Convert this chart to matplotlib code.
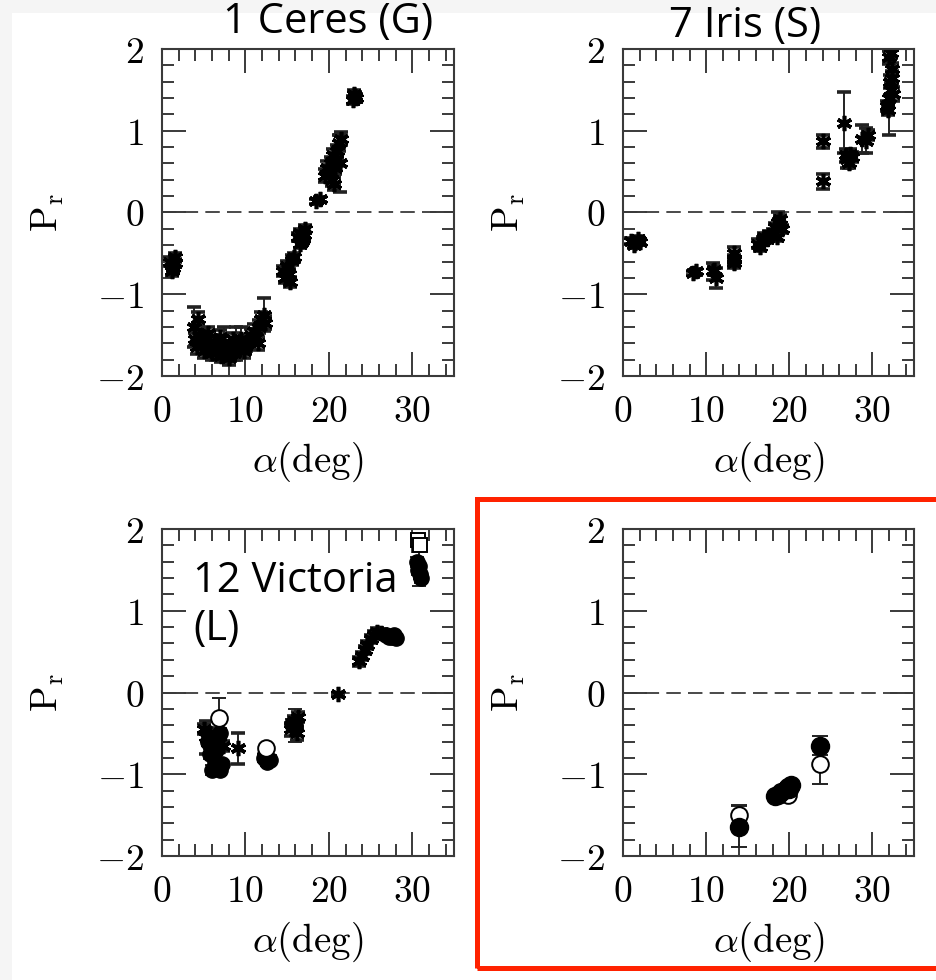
"""Linear polarization P_r vs phase angle for three asteroids plus one unnamed panel."""
import matplotlib
matplotlib.use("Agg")
import matplotlib.pyplot as plt
from matplotlib.patches import Rectangle
from matplotlib.ticker import MultipleLocator, FuncFormatter

plt.rcParams["mathtext.fontset"] = "cm"

# ---- 1 Ceres (G): asterisks -------------------------------------------------
ceres_a = [1.0, 1.3, 1.6, 1.2, 1.5,
           3.8, 4.0, 4.2, 4.5, 4.8, 5.0, 5.3, 5.6, 5.9, 6.2, 6.5, 6.8, 7.1, 7.4,
           7.7, 8.0, 8.3, 8.6, 8.9, 9.2, 9.5, 9.8, 10.1, 10.4, 10.7, 11.0, 11.3,
           11.6, 11.9, 12.2, 12.4, 4.3, 5.5, 7.0, 8.5, 9.9, 11.5, 6.0, 8.1,
           14.5, 14.8, 15.0, 15.3, 15.6, 15.8, 15.2,
           16.3, 16.6, 16.8, 17.0, 16.5, 17.1, 16.9,
           18.5, 18.9,
           19.5, 19.8, 20.0, 20.2, 20.4, 20.5, 20.7, 20.9, 21.0, 21.2, 21.3, 20.6, 21.5,
           22.9, 23.1, 23.3, 23.0]
ceres_p = [-0.60, -0.68, -0.62, -0.72, -0.55,
           -1.40, -1.55, -1.65, -1.50, -1.60, -1.70, -1.55, -1.62, -1.68, -1.58,
           -1.72, -1.65, -1.75, -1.60, -1.70, -1.78, -1.65, -1.72, -1.60, -1.68,
           -1.55, -1.70, -1.62, -1.58, -1.50, -1.45, -1.52, -1.40, -1.30, -1.25,
           -1.35, -1.30, -1.48, -1.52, -1.55, -1.65, -1.60, -1.72, -1.74,
           -0.72, -0.80, -0.65, -0.85, -0.58, -0.55, -0.75,
           -0.30, -0.25, -0.35, -0.28, -0.38, -0.20, -0.32,
           0.14, 0.16,
           0.45, 0.55, 0.50, 0.60, 0.40, 0.70, 0.55, 0.65, 0.75, 0.85, 0.60, 0.35, 0.90,
           1.38, 1.42, 1.40, 1.45]
ceres_e = [0.06, 0.05, 0.05, 0.06, 0.05,
           0.25, 0.08, 0.08, 0.08, 0.08, 0.08, 0.08, 0.08, 0.08, 0.08, 0.08,
           0.08, 0.08, 0.20, 0.08, 0.08, 0.08, 0.08, 0.20, 0.08, 0.15, 0.08,
           0.08, 0.08, 0.08, 0.08, 0.08, 0.08, 0.08, 0.20, 0.08, 0.08, 0.08,
           0.08, 0.08, 0.08, 0.08, 0.08, 0.08,
           0.06, 0.06, 0.06, 0.06, 0.06, 0.06, 0.06,
           0.05, 0.05, 0.05, 0.05, 0.05, 0.05, 0.05,
           0.03, 0.03,
           0.08, 0.08, 0.08, 0.08, 0.08, 0.08, 0.08, 0.08, 0.08, 0.10, 0.35, 0.08, 0.08,
           0.05, 0.05, 0.05, 0.05]

# ---- 7 Iris (S): asterisks --------------------------------------------------
iris_a = [1.0, 1.5, 2.0, 1.3, 1.8,
          8.4, 8.8,
          10.8, 11.2, 11.0,
          13.4, 13.4, 13.4,
          16.2, 16.5, 16.8, 17.0, 17.3, 17.6, 18.0, 18.3, 18.6, 18.9, 19.1, 18.5,
          24.0, 24.0,
          26.6, 26.8, 27.0, 27.3, 27.6, 27.2,
          28.7, 29.2, 29.5,
          31.8, 32.0, 32.2, 32.1, 32.3, 32.0, 32.2, 32.4, 31.9, 32.5]
iris_p = [-0.35, -0.37, -0.36, -0.40, -0.33,
          -0.74, -0.72,
          -0.72, -0.80, -0.70,
          -0.50, -0.58, -0.62,
          -0.38, -0.42, -0.35, -0.30, -0.32, -0.28, -0.25, -0.18, -0.12, -0.08, -0.20, -0.30,
          0.87, 0.38,
          1.10, 0.70, 0.65, 0.72, 0.68, 0.60,
          0.90, 0.88, 0.95,
          1.30, 1.40, 1.50, 1.60, 1.75, 1.90, 1.95, 1.65, 1.25, 1.45]
iris_e = [0.04, 0.04, 0.04, 0.04, 0.04,
          0.03, 0.03,
          0.10, 0.12, 0.05,
          0.08, 0.06, 0.06,
          0.05, 0.05, 0.05, 0.05, 0.05, 0.05, 0.05, 0.05, 0.12, 0.05, 0.05, 0.05,
          0.08, 0.09,
          0.37, 0.08, 0.10, 0.06, 0.06, 0.06,
          0.17, 0.15, 0.06,
          0.06, 0.45, 0.08, 0.08, 0.08, 0.08, 0.06, 0.08, 0.06, 0.08]

# ---- 12 Victoria (L): asterisks, filled circles, open circles/squares -------
vic_star_a = [5.0, 5.3, 5.8, 6.2, 6.8, 7.3, 9.1, 15.5, 15.8, 16.3, 16.2, 21.1,
              23.6, 24.0, 24.3, 24.6, 25.0, 25.4, 25.8, 26.3]
vic_star_p = [-0.45, -0.55, -0.50, -0.55, -0.60, -0.65, -0.68, -0.45, -0.35, -0.30,
              -0.50, -0.02, 0.38, 0.45, 0.52, 0.58, 0.65, 0.70, 0.74, 0.73]
vic_star_e = [0.06, 0.20, 0.06, 0.06, 0.06, 0.06, 0.19, 0.08, 0.06, 0.06,
              0.08, 0.02, 0.05, 0.05, 0.05, 0.05, 0.05, 0.05, 0.05, 0.05]
vic_fill_a = [5.5, 6.0, 6.5, 7.0, 6.3, 6.6, 7.0, 7.2, 6.0, 5.7,
              12.2, 12.6, 12.9, 12.4, 16.0, 15.6,
              26.8, 27.2, 27.6, 28.0, 27.8,
              30.7, 30.9, 30.8, 31.0, 30.6]
vic_fill_p = [-0.60, -0.65, -0.70, -0.50, -0.85, -0.92, -0.95, -0.88, -0.95, -0.75,
              -0.80, -0.85, -0.82, -0.75, -0.40, -0.38,
              0.70, 0.68, 0.68, 0.67, 0.70,
              1.50, 1.45, 1.55, 1.40, 1.60]
vic_fill_e = [0.06, 0.06, 0.06, 0.06, 0.06, 0.06, 0.06, 0.06, 0.06, 0.06,
              0.05, 0.05, 0.05, 0.05, 0.20, 0.06,
              0.04, 0.04, 0.04, 0.04, 0.04,
              0.06, 0.06, 0.25, 0.06, 0.06]
vic_open_a = [6.8, 12.5]
vic_open_p = [-0.31, -0.68]
vic_open_e = [0.24, 0.04]
vic_sq_a = [30.7, 30.9]
vic_sq_p = [1.86, 1.80]
vic_sq_e = [0.06, 0.06]

# ---- fourth panel: filled and open circles ----------------------------------
p4_fill_a = [14.0, 18.3, 18.6, 19.0, 19.9, 20.2, 20.0, 23.7]
p4_fill_p = [-1.64, -1.27, -1.25, -1.22, -1.15, -1.13, -1.18, -0.65]
p4_fill_e = [0.25, 0.04, 0.04, 0.04, 0.04, 0.04, 0.04, 0.12]
p4_open_a = [14.0, 19.8, 23.7]
p4_open_p = [-1.50, -1.25, -0.87]
p4_open_e = [0.12, 0.03, 0.25]

titles = ["1 Ceres (G)", "7 Iris (S)", "12 Victoria\n(L)", ""]

# axes boxes in pixels (left, top, right, bottom) of a 936x980 canvas
W, H = 936, 980
boxes = [(162, 49, 454, 376), (623, 49, 914, 376),
         (162, 529, 454, 856), (623, 529, 914, 856)]

fig = plt.figure(figsize=(W / 100, H / 100), dpi=100, facecolor="#f5f5f5")
fig.patches.append(Rectangle((12 / W, 0), 1, 1 - 13 / H, transform=fig.transFigure,
                             facecolor="white", edgecolor="none", zorder=-10))

FRAME = "#3a3a3a"
EB = dict(ecolor="#222222", elinewidth=1.4, capsize=5, capthick=1.4, ls="none")
star = dict(marker=(6, 2, 0), ms=11, mew=2.6, color="black", **EB)


def style(ax):
    ax.set_xlim(0, 35)
    ax.set_ylim(-2, 2)
    ax.axhline(0, color=FRAME, lw=1.3, ls=(0, (8, 4)), zorder=0)
    ax.xaxis.set_major_locator(MultipleLocator(10))
    ax.xaxis.set_minor_locator(MultipleLocator(2))
    ax.yaxis.set_major_locator(MultipleLocator(1))
    ax.yaxis.set_minor_locator(MultipleLocator(0.2))
    fmt = FuncFormatter(lambda v, _: f"${v:g}$")
    ax.xaxis.set_major_formatter(fmt)
    ax.yaxis.set_major_formatter(fmt)
    ax.tick_params(which="both", direction="in", top=True, right=True,
                   color=FRAME, width=1.4, labelsize=27)
    ax.tick_params(which="major", length=17)
    ax.tick_params(which="minor", length=8.5)
    ax.tick_params(axis="x", pad=13)
    ax.tick_params(axis="y", pad=13)
    for s in ax.spines.values():
        s.set_color(FRAME)
        s.set_linewidth(1.5)
    ax.set_xlabel(r"$\alpha(\mathrm{deg})$", fontsize=28)
    ax.xaxis.set_label_coords(0.5, -0.195)
    ax.set_ylabel(r"$\mathrm{P_r}$", fontsize=27)
    ax.yaxis.set_label_coords(-0.33, 0.5)


axes = []
for (l, t, r, b) in boxes:
    ax = fig.add_axes([l / W, 1 - b / H, (r - l) / W, (b - t) / H])
    style(ax)
    axes.append(ax)

ax1, ax2, ax3, ax4 = axes
ax1.errorbar(ceres_a, ceres_p, yerr=ceres_e, **star)
ax2.errorbar(iris_a, iris_p, yerr=iris_e, **star)

ax3.errorbar(vic_star_a, vic_star_p, yerr=vic_star_e, **star)
ax3.errorbar(vic_fill_a, vic_fill_p, yerr=vic_fill_e, marker="o", ms=11,
             color="black", **EB)
ax3.errorbar(vic_open_a, vic_open_p, yerr=vic_open_e, marker="o", ms=12,
             mfc="white", mec="black", mew=1.4, **EB)
ax3.errorbar(vic_sq_a, vic_sq_p, yerr=vic_sq_e, marker="s", ms=10,
             mfc="white", mec="black", mew=1.4, **EB)

EB4 = dict(EB, capsize=6)
ax4.errorbar(p4_open_a, p4_open_p, yerr=p4_open_e, marker="o", ms=12,
             mfc="white", mec="black", mew=1.4, **EB4)
ax4.errorbar(p4_fill_a, p4_fill_p, yerr=p4_fill_e, marker="o", ms=13,
             color="black", **EB4)

# panel titles
tfont = dict(family=["Open Sans", "DejaVu Sans"], fontsize=30, color="black")
fig.text(328 / W, 1 - 22 / H, titles[0], ha="center", va="center", **tfont)
fig.text(745 / W, 1 - 26 / H, titles[1], ha="center", va="center", **tfont)
fig.text(193 / W, 1 - 560 / H, titles[2], ha="left", va="top",
         linespacing=1.2, **tfont)

# red highlight frame round the fourth panel
fig.patches.append(Rectangle((477.5 / W, 1 - 968 / H), 480 / W, 469 / H,
                             transform=fig.transFigure, fill=False,
                             edgecolor="#ff2200", lw=3.6, zorder=5))

fig.savefig("out.png", dpi=100, facecolor=fig.get_facecolor())
